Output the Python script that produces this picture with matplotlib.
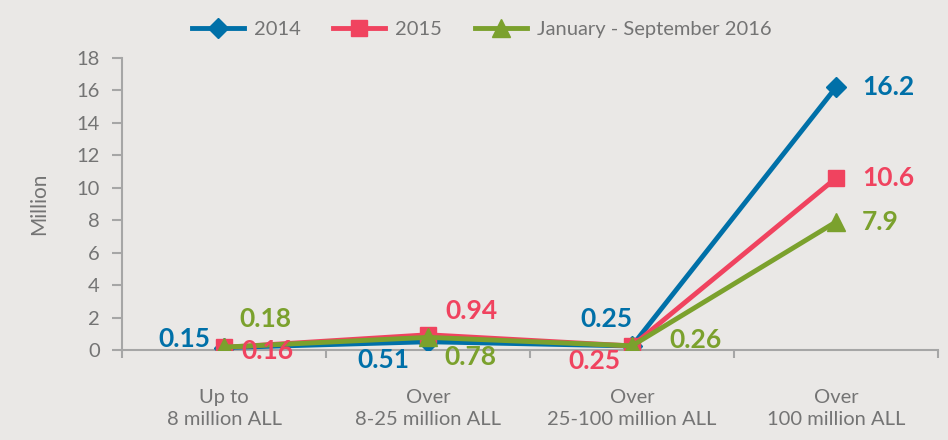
import numpy as np
import matplotlib.pyplot as plt

categories = ['Up to\n8 million ALL', 'Over\n8-25 million ALL',
              'Over\n25-100 million ALL', 'Over\n100 million ALL']
s2014 = [0.15, 0.51, 0.25, 16.2]
s2015 = [0.16, 0.94, 0.25, 10.6]
s2016 = [0.18, 0.78, 0.26, 7.9]
labels_2014 = ['0.15', '0.51', '0.25', '16.2']
labels_2015 = ['0.16', '0.94', '0.25', '10.6']
labels_2016 = ['0.18', '0.78', '0.26', '7.9']

bg = '#EAE8E6'
blue = '#0070A8'
red = '#F0435F'
green = '#7BA12D'
grey = '#A6A6A6'
txt = '#747474'

fig = plt.figure(figsize=(9.48, 4.40), dpi=100, facecolor=bg)
ax = fig.add_axes([0.1287, 0.2045, 0.8608, 0.6636])
ax.set_facecolor(bg)

x = np.arange(len(categories))
ax.plot(x, s2014, color=blue, lw=3.5, marker='D', ms=10, label='2014', zorder=3)
ax.plot(x, s2015, color=red, lw=3.5, marker='s', ms=12, label='2015', zorder=4)
ax.plot(x, s2016, color=green, lw=3.5, marker='^', ms=13,
        label='January - September 2016', zorder=5)

# label centre offsets from the point, in pixels
offs_2014 = [(-40, 9), (-45, -18), (-26, 27), (52, 0)]
offs_2015 = [(43, -4), (43, 24), (-38, -15), (52, 0)]
offs_2016 = [(41, 28), (42, -20), (63, 6), (44, 0)]

for ys, labs, offs, c in [(s2014, labels_2014, offs_2014, blue),
                          (s2015, labels_2015, offs_2015, red),
                          (s2016, labels_2016, offs_2016, green)]:
    for xi, yi, lab, (dx, dy) in zip(x, ys, labs, offs):
        ax.annotate(lab, (xi, yi), xytext=(dx, dy), textcoords='offset pixels',
                    ha='center', va='center', color=c, fontsize=19,
                    fontweight='bold', family='Lato', zorder=6)

ax.set_xlim(-0.5, 3.5)
ax.set_ylim(0, 18)
ax.set_yticks(np.arange(0, 19, 2))
ax.set_xticks(x)
ax.set_xticklabels(categories, fontsize=14.5, color=txt, family='Lato',
                   linespacing=1.35)
ax.set_xticks(np.arange(-0.5, 3.6, 1), minor=True)
ax.tick_params(axis='x', which='major', length=0, pad=28)
ax.tick_params(axis='x', which='minor', length=6, color=grey, width=1.5)
ax.tick_params(axis='y', length=7, color=grey, width=1.5, labelsize=14.5,
               labelcolor=txt, pad=9)
for t in ax.get_yticklabels():
    t.set_family('Lato')
ax.set_ylabel('Million', fontsize=15, color=txt, family='Lato', labelpad=20)

for s in ['top', 'right']:
    ax.spines[s].set_visible(False)
for s in ['left', 'bottom']:
    ax.spines[s].set_color(grey)
    ax.spines[s].set_linewidth(1.5)

leg = fig.legend(loc='center', bbox_to_anchor=(0.508, 0.932), ncol=3,
                 frameon=False, fontsize=14.5, handlelength=2.6,
                 columnspacing=1.6, handletextpad=0.5)
for t in leg.get_texts():
    t.set_color(txt)
    t.set_family('Lato')

fig.savefig('out.png', dpi=100, facecolor=bg)
